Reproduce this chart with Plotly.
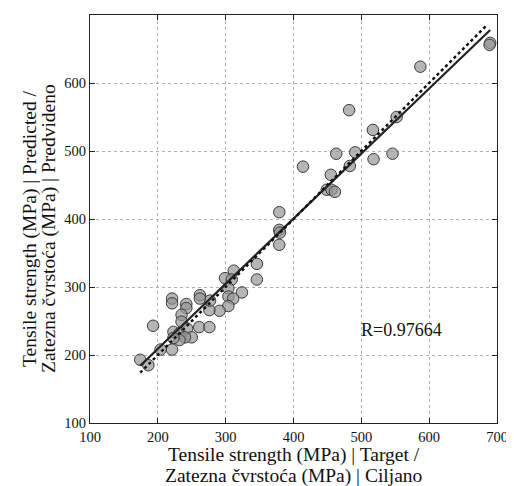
import plotly.graph_objects as go

# Target (x) and predicted (y) tensile strength values, MPa
target = [690, 689, 587, 552, 482, 517, 463, 491, 518, 546, 414, 483, 455, 449, 456, 461,
          379, 379, 380, 379, 346, 346, 312, 299, 309, 304, 324, 304, 311, 304, 291, 276,
          277, 262, 262, 242, 242, 221, 221, 235, 235, 193, 261, 276, 223, 232, 243, 250,
          240, 232, 221, 204, 174, 186, 223]
predicted = [659, 656, 624, 550, 560, 531, 496, 498, 488, 496, 477, 478, 465, 443, 443, 440,
             410, 384, 380, 362, 334, 311, 324, 313, 311, 298, 292, 286, 283, 272, 265, 266,
             280, 288, 283, 275, 269, 283, 276, 259, 249, 243, 241, 241, 234, 232, 239, 226,
             226, 222, 208, 208, 193, 185, 225]

fit_slope = 0.957
fit_intercept = 17.7
r_label = "R=0.97664"
r_pos = (559, 237)

ticks = [100, 200, 300, 400, 500, 600, 700]
x_title_lines = ["Tensile strength (MPa) | Target /", "Zatezna čvrstoća (MPa) | Ciljano"]
y_title_lines = ["Tensile strength (MPa) | Predicted /", "Zatezna čvrstoća (MPa) | Predvideno"]

x_lo, x_hi = min(target), max(target)
SERIF = "Liberation Serif, Times New Roman, DejaVu Serif, serif"

fig = go.Figure()
fig.add_trace(go.Scatter(
    x=target, y=predicted, mode="markers",
    marker=dict(size=11.5, color="rgba(150,150,150,0.7)", line=dict(color="#3a3a3a", width=1)),
    showlegend=False))
fig.add_trace(go.Scatter(
    x=[x_lo, x_hi], y=[fit_slope * x_lo + fit_intercept, fit_slope * x_hi + fit_intercept],
    mode="lines", line=dict(color="#222222", width=2.2), showlegend=False))
fig.add_trace(go.Scatter(
    x=[x_lo, x_hi - 5], y=[x_lo, x_hi - 5], mode="lines",
    line=dict(color="#111111", width=2.5, dash="dot"), showlegend=False))

fig.add_annotation(x=r_pos[0], y=r_pos[1], text=r_label, showarrow=False,
                   font=dict(family=SERIF, size=18, color="#111"))

title_font = dict(family=SERIF, size=19.5, color="#111")
for i, line in enumerate(x_title_lines):
    fig.add_annotation(x=0.5, y=0, xref="paper", yref="paper", text=line, showarrow=False,
                       xanchor="center", yanchor="middle", yshift=-32 - 21 * i, font=title_font)
for i, line in enumerate(y_title_lines):
    fig.add_annotation(x=0, y=0.5, xref="paper", yref="paper", text=line, showarrow=False,
                       textangle=-90, xanchor="center", yanchor="middle",
                       xshift=-60 + 19 * i, yshift=-10, font=title_font)

axis_common = dict(
    range=[100, 700], tickvals=ticks, ticks="inside", ticklen=5, tickcolor="#222",
    showline=True, linecolor="#222", linewidth=1.2, mirror="ticks",
    showgrid=True, gridcolor="#b0b0b0", griddash="dot", gridwidth=1,
    zeroline=False, automargin=False,
    tickfont=dict(family=SERIF, size=14.5, color="#111"),
)

fig.update_xaxes(**axis_common)
fig.update_yaxes(**axis_common)

# the page body adds an ~8px offset; figure is shrunk to compensate
fig.update_layout(
    width=506, height=478,
    margin=dict(l=82, r=17, t=7, b=63),
    paper_bgcolor="white", plot_bgcolor="white",
    font=dict(family=SERIF),
)

fig.write_html("out.html")
